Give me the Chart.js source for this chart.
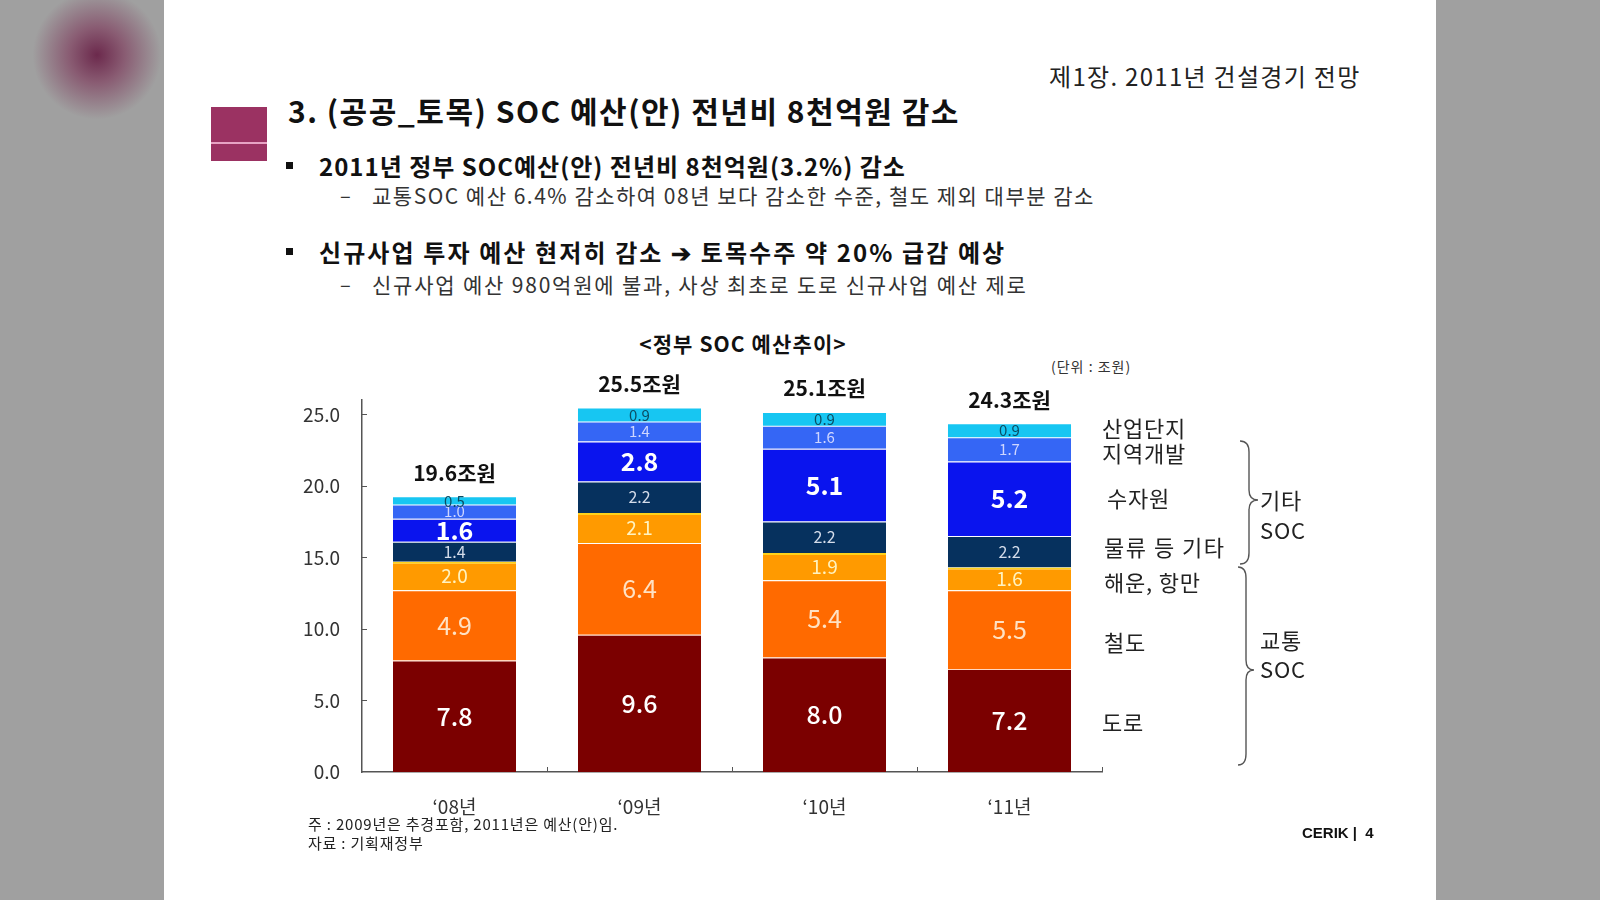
<!DOCTYPE html>
<html>
<head>
<meta charset="utf-8">
<script src="https://cdn.jsdelivr.net/npm/chart.js@4.4.1/dist/chart.umd.min.js"></script>
<style>
  body { margin: 0; width: 1600px; height: 900px; overflow: hidden; position: relative;
         background: #a0a0a0; font-family: "Noto Sans CJK KR", "Noto Sans", sans-serif; color: #111; }
  .blob { position: absolute; left: 32px; top: -10px; width: 130px; height: 130px; border-radius: 50%;
          background: radial-gradient(circle, rgba(105,35,72,0.95) 0%, rgba(125,55,90,0.65) 30%, rgba(160,160,160,0) 70%); }
  .slide { position: absolute; left: 164px; top: 0; width: 1272px; height: 900px; background: #fff; }
  .t { position: absolute; white-space: nowrap; transform: translateY(-50%); line-height: 1; }
  .mark { position: absolute; left: 211px; top: 107px; width: 56px; height: 54px; background: #9b3262; }
  .mark i { position: absolute; left: 0; top: 35px; width: 56px; height: 2px; background: #e7a3c4; }
  .sq { position: absolute; width: 7px; height: 7px; background: #111; }
  #box { position: absolute; left: 280px; top: 360px; width: 840px; height: 470px; }
  svg { position: absolute; left: 0; top: 0; }
  .lg { font-size: 22px; color: #222; letter-spacing: 0.8px; }
</style>
</head>
<body>
<div class="blob"></div>
<div class="slide"></div>
<div class="mark"><i></i></div>

<div class="t" style="left:1049px;top:76px;font-size:24px;color:#222;letter-spacing:1.3px;">제1장. 2011년 건설경기 전망</div>
<div class="t" style="left:288px;top:110px;font-size:30px;font-weight:bold;letter-spacing:1.5px;">3. (공공_토목) SOC 예산(안) 전년비 8천억원 감소</div>

<div class="sq" style="left:286px;top:162px;"></div>
<div class="t" style="left:319px;top:166px;font-size:24px;font-weight:bold;letter-spacing:1px;">2011년 정부 SOC예산(안) 전년비 8천억원(3.2%) 감소</div>
<div class="t" style="left:340px;top:195px;font-size:20px;color:#333;">–</div>
<div class="t" style="left:372px;top:195px;font-size:21px;color:#333;letter-spacing:1.5px;">교통SOC 예산 6.4% 감소하여 08년 보다 감소한 수준, 철도 제외 대부분 감소</div>

<div class="sq" style="left:286px;top:248px;"></div>
<div class="t" style="left:319px;top:252px;font-size:24px;font-weight:bold;letter-spacing:2.1px;">신규사업 투자 예산 현저히 감소 ➔ 토목수주 약 20% 급감 예상</div>
<div class="t" style="left:340px;top:284px;font-size:20px;color:#333;">–</div>
<div class="t" style="left:372px;top:284px;font-size:21px;color:#333;letter-spacing:1.8px;">신규사업 예산 980억원에 불과, 사상 최초로 도로 신규사업 예산 제로</div>

<div class="t" style="left:743px;top:343px;font-size:21px;font-weight:bold;letter-spacing:1.1px;transform:translate(-50%,-50%);">&lt;정부 SOC 예산추이&gt;</div>
<div class="t" style="left:1051px;top:366px;font-size:14px;color:#333;letter-spacing:1px;">(단위 : 조원)</div>

<div id="box"><canvas id="soc-chart"></canvas></div>

<div class="t lg" style="left:1102px;top:427px;">산업단지</div>
<div class="t lg" style="left:1102px;top:452px;">지역개발</div>
<div class="t lg" style="left:1107px;top:497px;">수자원</div>
<div class="t lg" style="left:1104px;top:546px;letter-spacing:1.5px;">물류 등 기타</div>
<div class="t lg" style="left:1104px;top:581px;">해운, 항만</div>
<div class="t lg" style="left:1104px;top:641px;">철도</div>
<div class="t lg" style="left:1102px;top:721px;">도로</div>

<svg width="1600" height="900">
  <path d="M1240 441 Q1249 441 1249 452 L1249 490 Q1249 500 1258 500 Q1249 500 1249 510 L1249 553 Q1249 564 1240 564"
        fill="none" stroke="#555" stroke-width="1.4"/>
  <path d="M1238 567 Q1246 567 1246 578 L1246 660 Q1246 670 1254 670 Q1246 670 1246 680 L1246 754 Q1246 765 1238 765"
        fill="none" stroke="#555" stroke-width="1.4"/>
</svg>
<div class="t lg" style="left:1260px;top:499px;">기타</div>
<div class="t lg" style="left:1260px;top:529px;">SOC</div>
<div class="t lg" style="left:1260px;top:639px;">교통</div>
<div class="t lg" style="left:1260px;top:668px;">SOC</div>

<div class="t" style="left:308px;top:823px;font-size:15px;color:#222;letter-spacing:0.8px;">주 : 2009년은 추경포함, 2011년은 예산(안)임.</div>
<div class="t" style="left:308px;top:842px;font-size:15px;color:#222;letter-spacing:0.8px;">자료 : 기획재정부</div>
<div class="t" style="left:1302px;top:832px;font-size:15px;font-weight:bold;font-family:'Liberation Sans',Arial,sans-serif;">CERIK&nbsp;|&nbsp;&nbsp;4</div>

<script>
var years = ['\u201808년', '\u201809년', '\u201810년', '\u201811년'];
var road = [7.8, 9.6, 8.0, 7.2];
var rail = [4.9, 6.4, 5.4, 5.5];
var port = [2.0, 2.1, 1.9, 1.6];
var logistics = [1.4, 2.2, 2.2, 2.2];
var water = [1.6, 2.8, 5.1, 5.2];
var regional = [1.0, 1.4, 1.6, 1.7];
var industrial = [0.5, 0.9, 0.9, 0.9];
var totals = [19.6, 25.5, 25.1, 24.3];
var yTicks = [0, 5, 10, 15, 20, 25];

var FONT = '"Noto Sans CJK KR", "Noto Sans", sans-serif';

function layer(label, data, color, labelFont, labelColor, sep, sepWidth) {
    return {
        label: label,
        data: data,
        backgroundColor: color,
        borderColor: sep,
        borderWidth: { top: sepWidth, left: 0, right: 0, bottom: 0 },
        borderSkipped: false,
        labelFont: labelFont,
        labelColor: labelColor
    };
}

// values inside each segment, totals on top, small inward tick marks
var segmentLabels = {
    id: 'segmentLabels',
    afterDatasetsDraw(chart) {
        var ctx = chart.ctx;
        ctx.save();
        ctx.textAlign = 'center';
        ctx.textBaseline = 'middle';
        chart.data.datasets.forEach(function (ds, i) {
            chart.getDatasetMeta(i).data.forEach(function (bar, j) {
                ctx.font = ds.labelFont;
                ctx.fillStyle = ds.labelColor;
                ctx.fillText(ds.data[j].toFixed(1), bar.x, (bar.y + bar.base) / 2);
            });
        });
        var last = chart.getDatasetMeta(chart.data.datasets.length - 1);
        ctx.font = 'bold 21px ' + FONT;
        ctx.fillStyle = '#111';
        ctx.textBaseline = 'bottom';
        last.data.forEach(function (bar, j) {
            ctx.fillText(totals[j].toFixed(1) + '조원', bar.x, bar.y - 14);
        });

        var x = chart.scales.x, y = chart.scales.y, area = chart.chartArea;
        ctx.strokeStyle = '#555';
        ctx.lineWidth = 1;
        yTicks.forEach(function (v) {
            if (v === 0) return;
            var py = Math.round(y.getPixelForValue(v)) + 0.5;
            ctx.beginPath(); ctx.moveTo(area.left, py); ctx.lineTo(area.left + 5, py); ctx.stroke();
        });
        for (var j = 0; j < years.length; j++) {
            var px = j < years.length - 1
                ? (x.getPixelForValue(j) + x.getPixelForValue(j + 1)) / 2
                : area.right;
            px = Math.round(px) + 0.5;
            ctx.beginPath(); ctx.moveTo(px, area.bottom); ctx.lineTo(px, area.bottom - 5); ctx.stroke();
        }
        ctx.restore();
    }
};

var ctx = document.getElementById('soc-chart').getContext('2d');

var socChart = new Chart(ctx, {
    type: 'bar',
    data: {
        labels: years,
        datasets: [
            layer('도로', road, '#7b0000', '500 25px ' + FONT, '#ffffff', 'rgba(255,200,170,0.7)', 1),
            layer('철도', rail, '#ff6a00', '25px ' + FONT, '#ffe2c4', 'rgba(255,255,255,0.25)', 1),
            layer('해운, 항만', port, '#ff9a00', '19px ' + FONT, '#fff3c0', '#ffd21a', 2),
            layer('물류 등 기타', logistics, '#06315e', '16px ' + FONT, '#d4dcea', 'rgba(255,255,255,0.3)', 1),
            layer('수자원', water, '#0a14ee', 'bold 25px ' + FONT, '#ffffff', 'rgba(255,255,255,0.3)', 1),
            layer('지역개발', regional, '#3566f5', '15px ' + FONT, '#cfd6ff', 'rgba(255,255,255,0.3)', 1),
            layer('산업단지', industrial, '#17c6f2', '15px ' + FONT, '#0b4d63', 'rgba(255,255,255,0.3)', 0)
        ]
    },
    options: {
        responsive: true,
        maintainAspectRatio: false,
        animation: false,
        layout: { padding: { top: 40, right: 18, left: 0, bottom: 0 } },
        plugins: {
            legend: { display: false },
            title: { display: false },
            tooltip: { enabled: false }
        },
        datasets: {
            bar: { categoryPercentage: 0.665, barPercentage: 1 }
        },
        scales: {
            x: {
                stacked: true,
                grid: { display: false, drawTicks: false },
                border: { color: '#555', width: 1.5 },
                ticks: { color: '#333', padding: 23, font: { family: FONT, size: 19 } },
                afterFit: function (scale) { scale.height = 58; }
            },
            y: {
                stacked: true,
                min: 0,
                max: 26,
                grid: { display: false, drawTicks: false },
                border: { color: '#555', width: 1.5 },
                ticks: {
                    stepSize: 5,
                    color: '#333',
                    padding: 22,
                    font: { family: FONT, size: 19 },
                    callback: function (v) { return v.toFixed(1); }
                },
                afterBuildTicks: function (scale) {
                    scale.ticks = yTicks.map(function (v) { return { value: v }; });
                },
                afterFit: function (scale) {
                    scale.width = 82;
                    scale.paddingTop = 0;
                    scale.paddingBottom = 0;
                }
            }
        }
    },
    plugins: [segmentLabels]
});
</script>
</body>
</html>
